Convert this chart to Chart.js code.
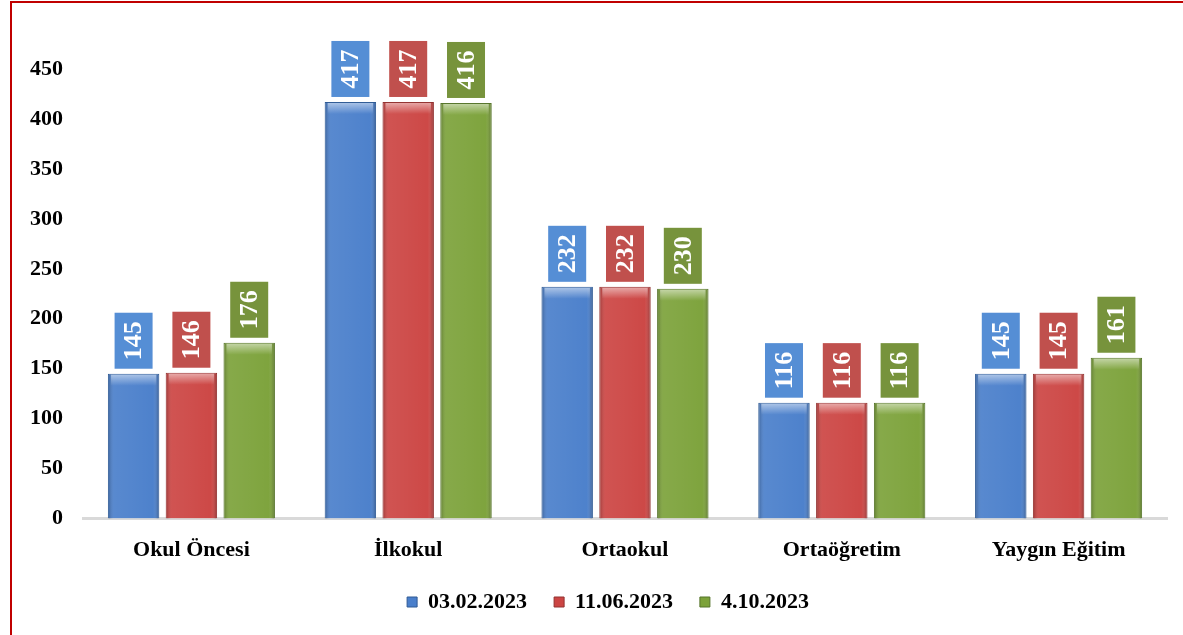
<!DOCTYPE html>
<html>
<head>
<meta charset="utf-8">
<script src="https://cdn.jsdelivr.net/npm/chart.js@4.4.0/dist/chart.umd.min.js"></script>
<style>
  html, body { margin: 0; padding: 0; background: #fff; }
  #wrap { position: relative; width: 1183px; height: 635px; overflow: hidden; }
  #frame { position: absolute; left: 10px; top: 1px; width: 1300px; height: 700px;
           border-left: 2px solid #c00000; border-top: 2px solid #c00000; pointer-events: none; }
  canvas { position: absolute; left: 0; top: 0; }
</style>
</head>
<body>
<div id="wrap">
  <canvas id="myChart" width="1183" height="635"></canvas>
  <div id="frame"></div>
</div>
<script>
const categories = ['Okul Öncesi', 'İlkokul', 'Ortaokul', 'Ortaöğretim', 'Yaygın Eğitim'];
const seriesNames = ['03.02.2023', '11.06.2023', '4.10.2023'];
const values0302 = [145, 417, 232, 116, 145];
const values1106 = [146, 417, 232, 116, 145];
const values0410 = [176, 416, 230, 116, 161];
const yTicks = [0, 50, 100, 150, 200, 250, 300, 350, 400, 450];

const BAR_COLORS = ['#4a7fcb', '#cc4543', '#7ca23a'];
const EDGE_COLORS = ['#2f5a94', '#923230', '#55742a'];
const BOX_COLORS = ['#558ed5', '#c0504d', '#77933c'];
const FONT = '"Liberation Serif", "Times New Roman", serif';

// gloss + labels drawn on top of the bars
const barDecor = {
    id: 'barDecor',
    afterLayout(chart) {
        // legend sits a bit right of centre in the original
        chart.legend.left += 30;
        chart.legend.right += 30;
    },
    afterDatasetsDraw(chart) {
        const ctx = chart.ctx;
        chart.data.datasets.forEach((ds, di) => {
            const meta = chart.getDatasetMeta(di);
            meta.data.forEach((bar, i) => {
                const left = bar.x - bar.width / 2;
                const w = bar.width;
                const top = bar.y;
                const h = bar.base - bar.y;

                ctx.save();
                // side shading
                let g = ctx.createLinearGradient(left, 0, left + w, 0);
                g.addColorStop(0, 'rgba(0,0,0,0.25)');
                g.addColorStop(0.12, 'rgba(255,255,255,0.08)');
                g.addColorStop(0.5, 'rgba(255,255,255,0.05)');
                g.addColorStop(0.88, 'rgba(255,255,255,0.02)');
                g.addColorStop(1, 'rgba(0,0,0,0.3)');
                ctx.fillStyle = g;
                ctx.fillRect(left + 1, top + 1, w - 2, h - 1);
                // top cap
                let gt = ctx.createLinearGradient(0, top, 0, top + 12);
                gt.addColorStop(0, 'rgba(255,255,255,0.55)');
                gt.addColorStop(1, 'rgba(255,255,255,0)');
                ctx.fillStyle = gt;
                ctx.fillRect(left + 3, top + 1, w - 6, 12);

                // label box
                const text = String(ds.data[i]);
                ctx.font = 'bold 26px ' + FONT;
                const tw = ctx.measureText(text).width;
                const boxW = 38;
                const boxH = tw + 17;
                const boxBottom = top - 5;
                ctx.fillStyle = BOX_COLORS[di];
                ctx.fillRect(bar.x - boxW / 2, boxBottom - boxH, boxW, boxH);
                ctx.translate(bar.x, boxBottom - boxH / 2);
                ctx.rotate(-Math.PI / 2);
                ctx.fillStyle = '#ffffff';
                ctx.textAlign = 'center';
                ctx.textBaseline = 'middle';
                ctx.fillText(text, 0, 1);
                ctx.restore();
            });
        });
    }
};

const ctx = document.getElementById('myChart').getContext('2d');
const allSeries = [values0302, values1106, values0410];

const myChart = new Chart(ctx, {
    type: 'bar',
    data: {
        labels: categories,
        datasets: allSeries.map((vals, k) => ({
            label: seriesNames[k],
            data: vals,
            backgroundColor: BAR_COLORS[k],
            borderColor: EDGE_COLORS[k],
            borderWidth: 1,
            categoryPercentage: 0.8,
            barPercentage: 0.89
        }))
    },
    options: {
        responsive: false,
        animation: false,
        layout: { padding: { top: 69, right: 16, bottom: 12, left: 0 } },
        scales: {
            x: {
                grid: { display: false },
                border: { display: true, color: '#d9d9d9', width: 3 },
                ticks: { color: '#000', padding: 11, font: { family: FONT, size: 22, weight: 'bold' } }
            },
            y: {
                min: 0,
                max: 450,
                afterBuildTicks(scale) { scale.ticks = yTicks.map(v => ({ value: v })); },
                afterFit(scale) { scale.width = 83; },
                grid: { display: false },
                border: { display: false },
                ticks: { color: '#000', padding: 12, font: { family: FONT, size: 22, weight: 'bold' } }
            }
        },
        plugins: {
            legend: {
                position: 'bottom',
                labels: {
                    color: '#000',
                    boxWidth: 10,
                    boxHeight: 10,
                    padding: 16,
                    font: { family: FONT, size: 22, weight: 'bold' },
                    generateLabels(chart) {
                        const items = Chart.defaults.plugins.legend.labels.generateLabels(chart);
                        items.forEach(it => { it.text = it.text + '\u00a0\u00a0'; });
                        return items;
                    }
                }
            },
            tooltip: { enabled: false }
        }
    },
    plugins: [barDecor]
});
</script>
</body>
</html>
